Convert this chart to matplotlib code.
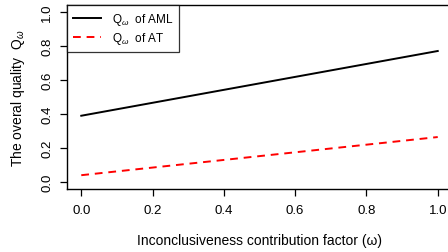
import matplotlib
matplotlib.use("Agg")
import matplotlib.pyplot as plt

plt.rcParams['font.family'] = ['Liberation Sans', 'DejaVu Sans']
plt.rcParams['mathtext.fontset'] = 'custom'
plt.rcParams['mathtext.rm'] = 'Liberation Sans'
plt.rcParams['mathtext.it'] = 'Liberation Sans:italic'

omega = [0.0, 1.0]
q_aml = [0.39, 0.77]
q_at = [0.041, 0.265]
xticks = [0.0, 0.2, 0.4, 0.6, 0.8, 1.0]
yticks = [0.0, 0.2, 0.4, 0.6, 0.8, 1.0]

fig = plt.figure(figsize=(4.48, 2.53), dpi=100)
ax = fig.add_axes([67/448, (253-190)/253, (452-67)/448, (190-6)/253])

ax.plot(omega, q_aml, color='black', lw=1.4, label=r'Q$_\omega$  of AML')
ax.plot(omega, q_at, color='red', lw=1.4, ls=(0, (4, 3)), label=r'Q$_\omega$  of AT')

ax.set_xlim(-0.04, 1.04)
ax.set_ylim(-0.04, 1.04)
ax.set_xticks(xticks)
ax.set_xticklabels([f"{v:.1f}" for v in xticks])
ax.set_yticks(yticks)
ax.set_yticklabels([f"{v:.1f}" for v in yticks], rotation=90, va='center')
ax.tick_params(direction='out', length=5, width=0.9, labelsize=9.5)
ax.tick_params(axis='x', pad=6)
ax.tick_params(axis='y', pad=5)

for s in ['left', 'top', 'bottom', 'right']:
    ax.spines[s].set_linewidth(1.0)

ax.set_xlabel('Inconclusiveness contribution factor (ω)', fontsize=10, labelpad=12)
ax.set_ylabel(r'The overal quality  Q$_\omega$', fontsize=10, labelpad=10)

leg = ax.legend(loc='upper left', bbox_to_anchor=(0, 1), borderaxespad=0,
                fontsize=8.5, frameon=True, fancybox=False, handlelength=2.4,
                handletextpad=0.9, borderpad=0.5, labelspacing=0.3)
leg.get_frame().set_edgecolor('black')
leg.get_frame().set_linewidth(0.9)

fig.savefig('out.png', dpi=100)
